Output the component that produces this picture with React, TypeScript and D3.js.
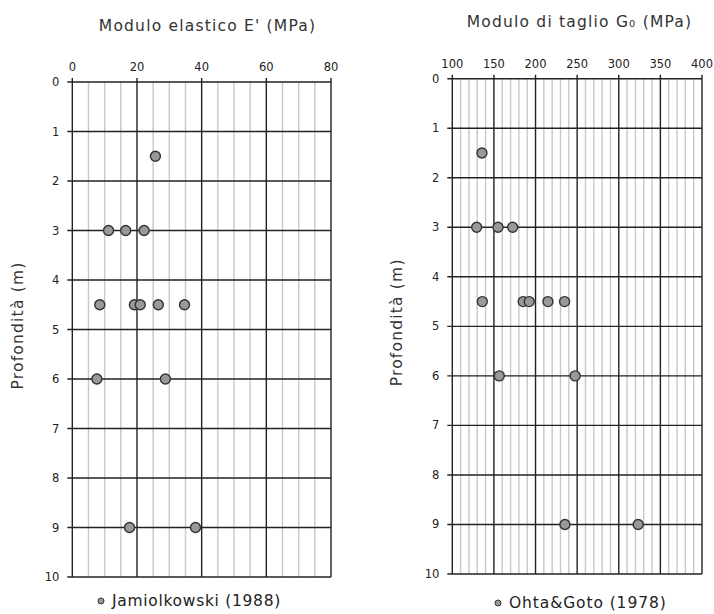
import React, { useEffect, useRef } from 'react';
import * as d3 from 'd3';

// Left panel: elastic modulus E' (MPa) vs depth (m)
const eDepth = [1.5, 3, 3, 3, 4.5, 4.5, 4.5, 4.5, 4.5, 6, 6, 9, 9];
const eValue = [25.7, 11.2, 16.5, 22.2, 8.5, 19.2, 21.0, 26.6, 34.7, 7.6, 28.8, 17.7, 38.1];
const eTicks = [0, 20, 40, 60, 80];

// Right panel: shear modulus G0 (MPa) vs depth (m)
const gDepth = [1.5, 3, 3, 3, 4.5, 4.5, 4.5, 4.5, 4.5, 6, 6, 9, 9];
const gValue = [135.6, 129.3, 154.9, 172.5, 136.0, 185.2, 192.4, 214.9, 234.9, 156.4, 247.6, 235.3, 323.3];
const gTicks = [100, 150, 200, 250, 300, 350, 400];

const depthTicks = [0, 1, 2, 3, 4, 5, 6, 7, 8, 9, 10];

const FONT = "'DejaVu Sans', sans-serif";

type Panel = {
  left: number; right: number; top: number; bottom: number;
  domain: [number, number]; ticks: number[]; minorStep: number;
  depth: number[]; value: number[];
  title: string; titleX: number; titleY: number; yTitleX: number;
  legend: string; legendX: number; legendY: number; legendSpacing: number;
};

export default function App() {
  const svgRef = useRef<SVGSVGElement>(null);

  useEffect(() => {
    if (!svgRef.current) return;
    const svg = d3.select(svgRef.current);
    svg.selectAll("*").remove();

    const panels: Panel[] = [
      {
        left: 72.3, right: 331, top: 82, bottom: 577,
        domain: [0, 80], ticks: eTicks, minorStep: 5,
        depth: eDepth, value: eValue,
        title: "Modulo elastico E' (MPa)", titleX: 207.5, titleY: 31, yTitleX: 18,
        legend: "Jamiolkowski (1988)", legendX: 101, legendY: 601, legendSpacing: 0.7,
      },
      {
        left: 452.3, right: 702, top: 78.7, bottom: 574,
        domain: [100, 400], ticks: gTicks, minorStep: 10,
        depth: gDepth, value: gValue,
        title: "Modulo di taglio G\u2080 (MPa)", titleX: 579.5, titleY: 27, yTitleX: 397,
        legend: "Ohta&Goto (1978)", legendX: 498, legendY: 603, legendSpacing: 0.9,
      },
    ];

    panels.forEach(p => {
      const x = d3.scaleLinear().domain(p.domain).range([p.left, p.right]);
      const y = d3.scaleLinear().domain([0, 10]).range([p.top, p.bottom]);
      const g = svg.append("g");

      // minor vertical grid
      const minors = d3.range(p.domain[0], p.domain[1] + 0.001, p.minorStep)
        .filter(v => !p.ticks.includes(v));
      g.selectAll(".minor").data(minors).enter().append("line")
        .attr("x1", d => x(d)).attr("x2", d => x(d))
        .attr("y1", p.top).attr("y2", p.bottom)
        .attr("stroke", "#c8c8c8").attr("stroke-width", 1.4);

      // major horizontal grid + left ticks
      g.selectAll(".hgrid").data(depthTicks).enter().append("line")
        .attr("x1", p.left - 5).attr("x2", p.right)
        .attr("y1", d => y(d)).attr("y2", d => y(d))
        .attr("stroke", "#222").attr("stroke-width", 1.4);

      // major vertical grid + top ticks
      g.selectAll(".vgrid").data(p.ticks).enter().append("line")
        .attr("x1", d => x(d)).attr("x2", d => x(d))
        .attr("y1", p.top - 4).attr("y2", p.bottom)
        .attr("stroke", "#222").attr("stroke-width", 1.4);

      // tick labels
      g.selectAll(".xlab").data(p.ticks).enter().append("text")
        .attr("x", d => x(d)).attr("y", p.top - 15)
        .attr("text-anchor", "middle").attr("dominant-baseline", "central")
        .attr("font-family", FONT).attr("font-size", 11.5).attr("fill", "#222")
        .text(d => String(d));

      g.selectAll(".ylab").data(depthTicks).enter().append("text")
        .attr("x", p.left - 13).attr("y", d => y(d))
        .attr("text-anchor", "end").attr("dominant-baseline", "central")
        .attr("font-family", FONT).attr("font-size", 11.5).attr("fill", "#222")
        .text(d => String(d));

      // titles
      g.append("text")
        .attr("x", p.titleX).attr("y", p.titleY)
        .attr("text-anchor", "middle")
        .attr("font-family", FONT).attr("font-size", 15.5).attr("letter-spacing", 1.2)
        .attr("fill", "#333")
        .text(p.title);

      g.append("text")
        .attr("transform", `translate(${p.yTitleX},${(p.top + p.bottom) / 2 - 4}) rotate(-90)`)
        .attr("text-anchor", "middle").attr("dominant-baseline", "central")
        .attr("font-family", FONT).attr("font-size", 15.5).attr("letter-spacing", 1.2)
        .attr("fill", "#333")
        .text("Profondità (m)");

      // points
      g.selectAll(".pt").data(p.value).enter().append("circle")
        .attr("cx", d => x(d)).attr("cy", (_, i) => y(p.depth[i]))
        .attr("r", 5)
        .attr("fill", "#999").attr("stroke", "#333").attr("stroke-width", 1.4);

      // legend
      g.append("circle")
        .attr("cx", p.legendX).attr("cy", p.legendY).attr("r", 3)
        .attr("fill", "#999").attr("stroke", "#333").attr("stroke-width", 1);
      g.append("text")
        .attr("x", p.legendX + 11).attr("y", p.legendY)
        .attr("dominant-baseline", "central")
        .attr("font-family", FONT).attr("font-size", 15.5).attr("letter-spacing", p.legendSpacing)
        .attr("fill", "#222")
        .text(p.legend);
    });
  }, []);

  return (
    <svg ref={svgRef} width={714} height={614}
      style={{ position: "absolute", left: 0, top: 0, background: "#fff" }} />
  );
}
